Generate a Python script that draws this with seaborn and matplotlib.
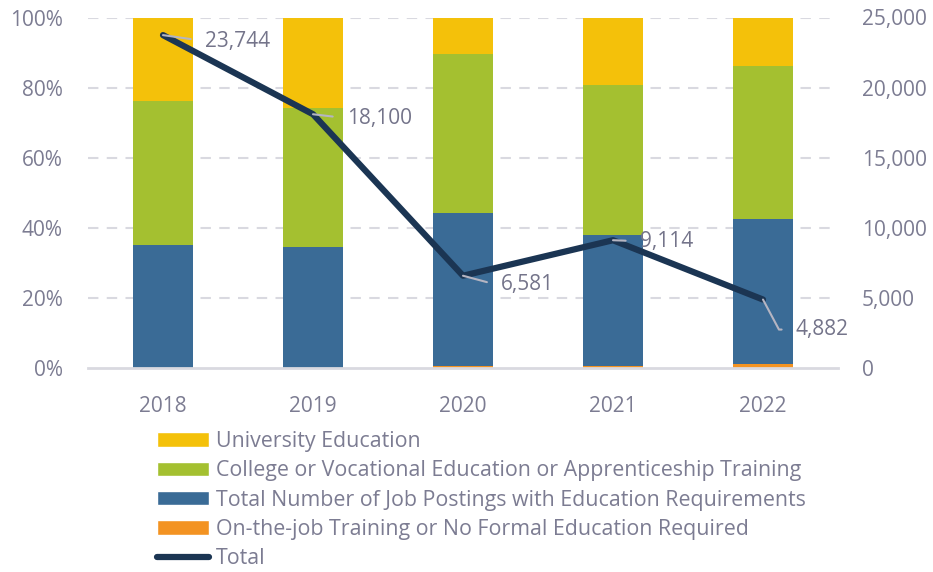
import matplotlib
matplotlib.use("Agg")
import matplotlib.pyplot as plt
import seaborn as sns
import numpy as np
import pandas as pd
from matplotlib.patches import Patch
from matplotlib.lines import Line2D

years = ["2018", "2019", "2020", "2021", "2022"]
on_the_job = [0.0, 0.0, 0.6, 0.6, 1.1]
job_postings = [35.0, 34.5, 43.6, 37.3, 41.4]
college = [41.1, 39.6, 45.5, 42.7, 43.8]
university = [23.9, 25.9, 10.3, 19.4, 13.7]
total = [23744, 18100, 6581, 9114, 4882]

series_names = [
    "On-the-job Training or No Formal Education Required",
    "Total Number of Job Postings with Education Requirements",
    "College or Vocational Education or Apprenticeship Training",
    "University Education",
]
series_vals = [on_the_job, job_postings, college, university]
colors = ["#F39322", "#3A6B96", "#A4C030", "#F4C10A"]
line_color = "#1B3553"
text_color = "#7C7C92"
grid_color = "#D9D9E0"

sns.set_theme(style="white")
plt.rcParams["font.family"] = ["Open Sans", "DejaVu Sans"]
FS = 15

fig = plt.figure(figsize=(9.33, 5.72), dpi=100)
ax = fig.add_axes([88 / 933, 1 - 368 / 572, 750 / 933, 350.5 / 572])
ax2 = ax.twinx()

cum = np.cumsum(np.array(series_vals), axis=0)
for k in range(len(series_names) - 1, -1, -1):
    df = pd.DataFrame({"year": years, "v": cum[k]})
    sns.barplot(data=df, x="year", y="v", color=colors[k], width=0.4,
                saturation=1, ax=ax, zorder=2, linewidth=0)

ax.set_ylim(0, 100)
ax.set_xlim(-0.5, 4.5)
ax.set_yticks([0, 20, 40, 60, 80, 100])
ax.set_yticklabels([f"{t}%" for t in [0, 20, 40, 60, 80, 100]])
for y in [20, 40, 60, 80, 100]:
    ax.axhline(y, color=grid_color, lw=1.5, ls=(0, (5, 4)), zorder=0)
ax.set_xlabel("")
ax.set_ylabel("")

df_line = pd.DataFrame({"x": np.arange(len(years)), "total": total})
sns.lineplot(data=df_line, x="x", y="total", ax=ax2, color=line_color, lw=4.5,
             solid_capstyle="round", solid_joinstyle="round", zorder=5)
ax2.set_ylim(0, 25000)
ax2.set_yticks(np.arange(0, 25001, 5000))
ax2.set_yticklabels([f"{t:,}" for t in range(0, 25001, 5000)])
ax2.set_ylabel("")
ax2.set_xlabel("")
ax2.set_xlim(-0.5, 4.5)

for a in (ax, ax2):
    for s in a.spines.values():
        s.set_visible(False)
ax.spines["bottom"].set_visible(True)
ax.spines["bottom"].set_color(grid_color)
ax.spines["bottom"].set_linewidth(2)

ax.tick_params(axis="y", length=0, pad=18, labelsize=FS, labelcolor=text_color)
ax.tick_params(axis="x", length=0, pad=20, labelsize=FS, labelcolor=text_color)
ax2.tick_params(axis="y", length=0, pad=17, labelsize=FS, labelcolor=text_color)
ax2.tick_params(axis="x", length=0, labelbottom=False)

offsets = [(42, -6, "arc3,rad=0"), (34, -4, "arc3,rad=0"),
           (38, -9, "angle,angleA=0,angleB=-15,rad=0"), (27, -1, "arc3,rad=0"),
           (33, -30, "angle,angleA=0,angleB=-62,rad=0")]
for i, (v, (dx, dy, cs)) in enumerate(zip(total, offsets)):
    ax2.annotate(f"{v:,}", xy=(i, v), xytext=(dx, dy), textcoords="offset pixels",
                 ha="left", va="center", fontsize=FS, color="#74748A",
                 arrowprops=dict(arrowstyle="-", color="#B5B5C2", lw=1.5,
                                 shrinkA=8, shrinkB=0, relpos=(0, 0.5),
                                 connectionstyle=cs), zorder=6)

handles = [Patch(facecolor=colors[3]), Patch(facecolor=colors[2]),
           Patch(facecolor=colors[1]), Patch(facecolor=colors[0]),
           Line2D([0], [0], color=line_color, lw=4.5, solid_capstyle="round")]
labels = [series_names[3], series_names[2], series_names[1], series_names[0], "Total"]
leg = fig.legend(handles, labels, loc="upper left", bbox_to_anchor=(157 / 933, 1 - 431 / 572),
                 frameon=False, fontsize=15.4, handlelength=2.45, handleheight=0.67,
                 handletextpad=0.3, labelspacing=0.39, borderpad=0, borderaxespad=0)
for t in leg.get_texts():
    t.set_color(text_color)

fig.savefig("out.png", dpi=100)
